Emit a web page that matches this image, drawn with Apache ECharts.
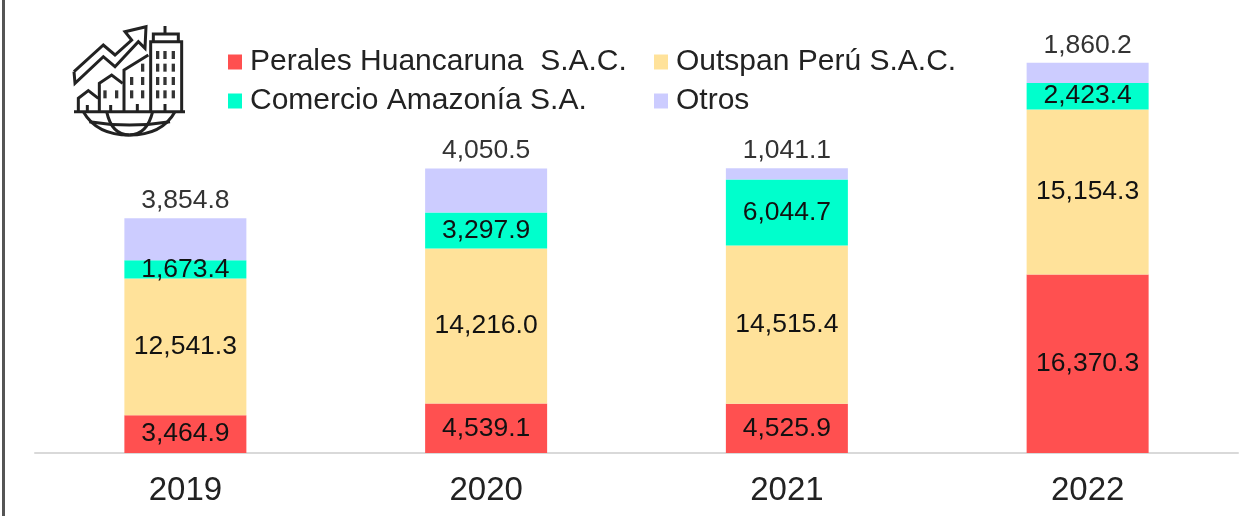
<!DOCTYPE html>
<html><head><meta charset="utf-8">
<style>html,body{margin:0;padding:0;background:#fff}#c{width:1258px;height:516px}</style>
<script src="https://cdn.jsdelivr.net/npm/echarts@6/dist/echarts.min.js"></script>
</head><body><div id="c"></div>
<script>
const categories = ['2019','2020','2021','2022'];
const perales = [3464.9,4539.1,4525.9,16370.3];
const outspan = [12541.3,14216.0,14515.4,15154.3];
const comercio = [1673.4,3297.9,6044.7,2423.4];
const otros = [3854.8,4050.5,1041.1,1860.2];
const names = ['Perales Huancaruna  S.A.C.','Outspan Perú S.A.C.','Comercio Amazonía S.A.','Otros'];
const colors = ['#FF5050','#FFE29A','#00FFCC','#CCCCFF'];
const values = [perales,outspan,comercio,otros];
const legendPos = [[228,47],[654,47],[228,86],[654,86]];
const font = '"Liberation Sans", Arial, sans-serif';
const fmt = p => p.value.toLocaleString('en-US',{minimumFractionDigits:1,maximumFractionDigits:1});

const iconLines = [
 [[222,215],[310,135],[345,165],[395,120],[375,95],[438,80],[435,145],[415,125],[345,200],[310,170],[225,250],[222,215]],
 [[452,335],[452,125],[545,125],[545,335]],
 [[460,125],[460,102],[535,102],[535,125]],
 [[495,102],[495,78]],
 [[372,335],[372,210],[445,165]],
 [[298,335],[298,250],[335,225],[368,250]],
 [[235,335],[235,295],[265,272],[295,295]],
 [[222,335],[555,335]],
 [[262,335],[262,315]],[[332,335],[332,315]],[[412,335],[412,312]],[[495,335],[495,312]]
];
const iconCurves = [
 [250,335,290,405,388,405],[388,405,486,405,525,335],
 [320,335,335,405,388,405],[388,405,441,405,458,335],
 [268,365,388,385,510,365]
];
const winCoords = [[473,165],[495,165],[520,165],[473,203],[495,203],[520,203],[473,243],[495,243],[520,243],[473,283],[495,283],[520,283],[428,203],[395,243],[428,243],[395,283],[428,283],[315,283],[350,283]];
const iconStyle = {fill:'none',stroke:'#222',lineWidth:3};
const graphics = [
 {type:'rect',shape:{x:2,y:0,width:3,height:516},style:{fill:'#555'}},
 ...iconLines.map(l=>({type:'polyline',shape:{points:l.map(p=>[p[0]/3,p[1]/3])},style:iconStyle})),
 ...iconCurves.map(c=>({type:'bezierCurve',shape:{x1:c[0]/3,y1:c[1]/3,cpx1:c[2]/3,cpy1:c[3]/3,x2:c[4]/3,y2:c[5]/3},style:iconStyle})),
 ...winCoords.map(w=>({type:'rect',shape:{x:(w[0]-5)/3,y:(w[1]-12)/3,width:3.3,height:8},style:{fill:'#333'}}))
];

const chart = echarts.init(document.getElementById('c'),null,{renderer:'canvas'});
chart.setOption({
 animation:false,
 backgroundColor:'#fff',
 textStyle:{fontFamily:font},
 grid:{left:35,right:20,top:17,bottom:63},
 legend:names.map((n,i)=>({
   data:[n],left:legendPos[i][0],top:legendPos[i][1],itemWidth:14,itemHeight:15,padding:0,icon:'rect',
   textStyle:{fontFamily:font,fontSize:30,color:'#222',padding:[0,0,0,3]}
 })),
 xAxis:{type:'category',data:categories,
   axisLine:{lineStyle:{color:'#d9d9d9',width:2}},axisTick:{show:false},
   axisLabel:{fontFamily:font,fontSize:33,color:'#222',margin:21}},
 yAxis:{type:'value',min:0,max:40000,show:false,splitLine:{show:false}},
 series:names.map((n,i)=>({
   name:n,type:'bar',stack:'t',data:values[i],barWidth:122,itemStyle:{color:colors[i]},
   label:{show:true,position:i===3?'top':'inside',formatter:fmt,fontFamily:font,fontSize:26.5,
     color:i===3?'#333':'#111',distance:i===3?4:0}
 })),
 graphic:graphics
});
</script></body></html>
